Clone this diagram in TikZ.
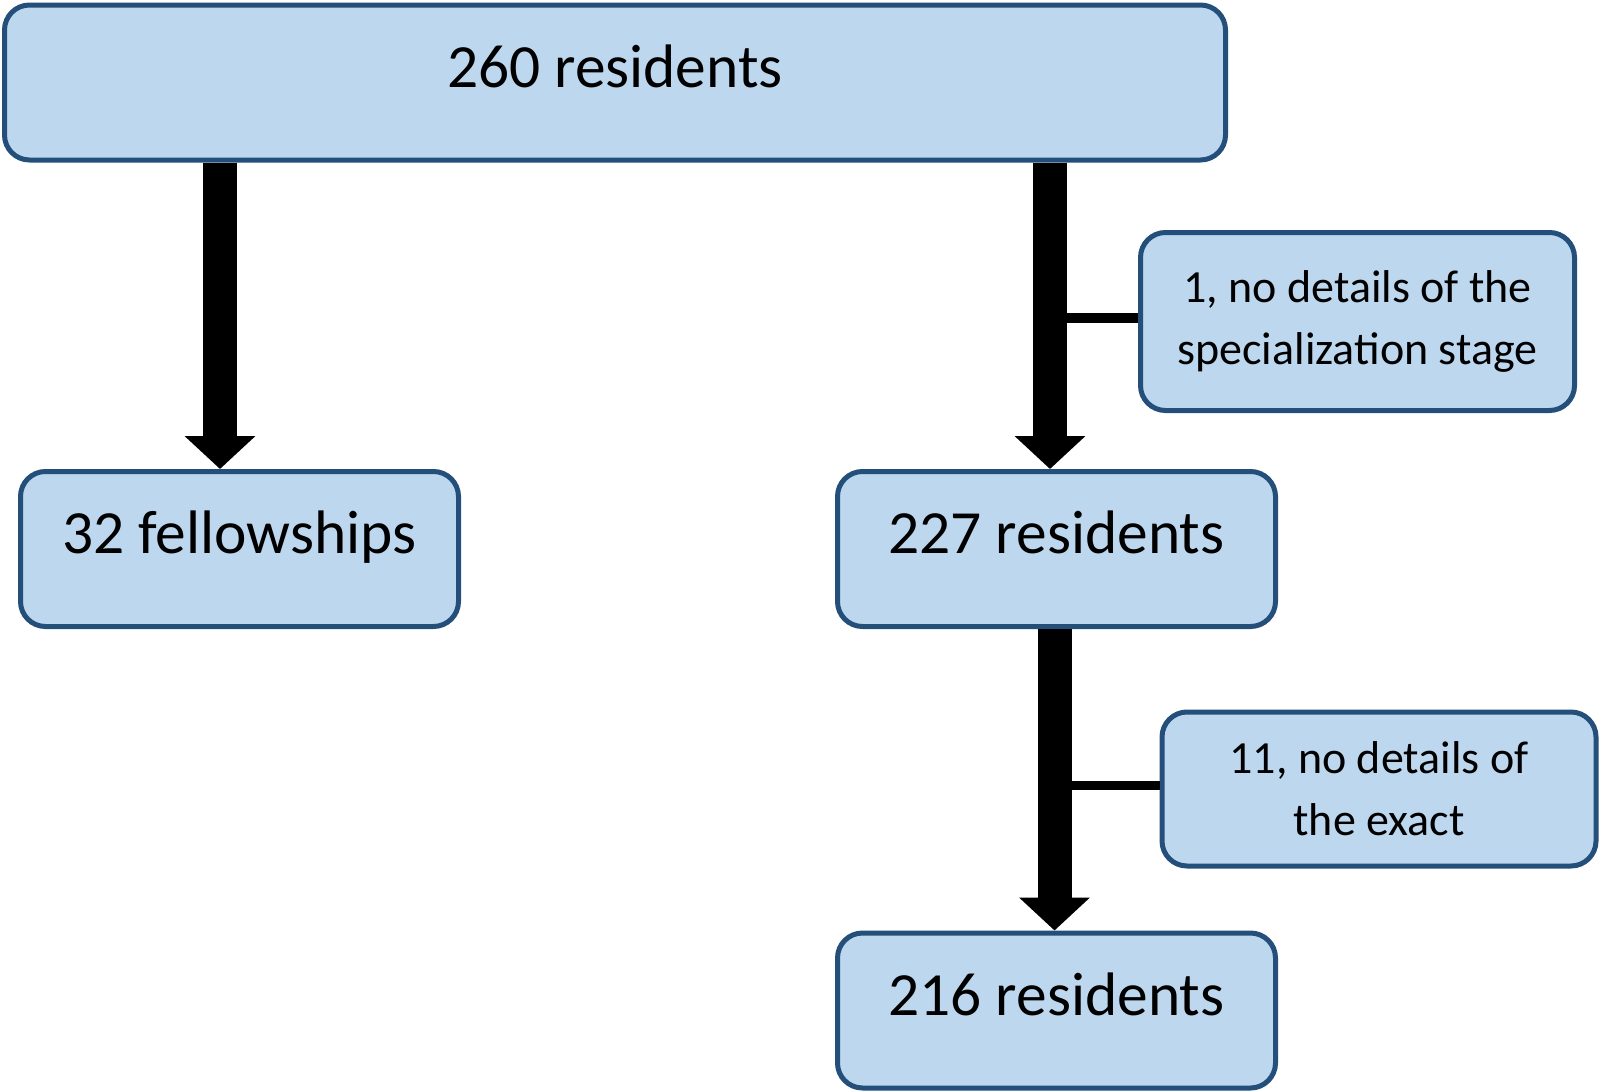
\documentclass[tikz,border=0pt]{standalone}
\usepackage{fontspec}
\setmainfont{Carlito}
\usetikzlibrary{arrows.meta}
\definecolor{boxfill}{RGB}{189,215,238}
\definecolor{boxline}{RGB}{36,79,122}
\begin{document}
\begin{tikzpicture}[x=0.5pt, y=-0.5pt,
  box/.style={draw=boxline, fill=boxfill, line width=2.5pt, rounded corners=12.5pt, inner sep=0pt},
  big/.style={box, minimum height=77.5pt, font=\fontsize{30.7}{37}\selectfont, text height=24pt, text depth=19.5pt},
  side/.style={box, minimum width=217pt, align=center, font=\fontsize{23}{31}\selectfont},
  flow/.style={line width=17pt, -{Triangle[width=34.5pt, length=16.5pt]}},
  tick/.style={line width=4.8pt}]
\useasboundingbox (0,0) rectangle (1601,1092);
\node[big, minimum width=610.5pt] (top) at (615,82.5) {260 residents};
\node[big, minimum width=219pt] (fell) at (239.5,549) {32 fellowships};
\node[big, minimum width=219pt] (r227) at (1056.5,549) {227 residents};
\node[big, minimum width=219pt] (r216) at (1056.5,1010.5) {216 residents};
\node[side, minimum height=89pt] (spec) at (1357.5,321.5) {1, no details of the\\specialization stage};
\node[side, minimum height=77pt] (exact) at (1379,789) {11, no details of\\the exact};
\draw[flow] ([xshift=-9.75pt]top.south -| fell.north) -- ([xshift=-9.75pt]fell.north);
\draw[flow] ([xshift=-3.25pt]top.south -| r227.north) -- ([xshift=-3.25pt]r227.north);
\draw[flow] ([xshift=-1pt]r227.south) -- ([xshift=-1pt]r216.north);
\draw[tick] ([yshift=1.75pt]spec.west) -- ([xshift=-3.25pt, yshift=1.75pt]spec.west -| r227.north);
\draw[tick] ([yshift=1.75pt]exact.west) -- ([xshift=-1pt, yshift=1.75pt]exact.west -| r216.north);
\end{tikzpicture}
\end{document}
